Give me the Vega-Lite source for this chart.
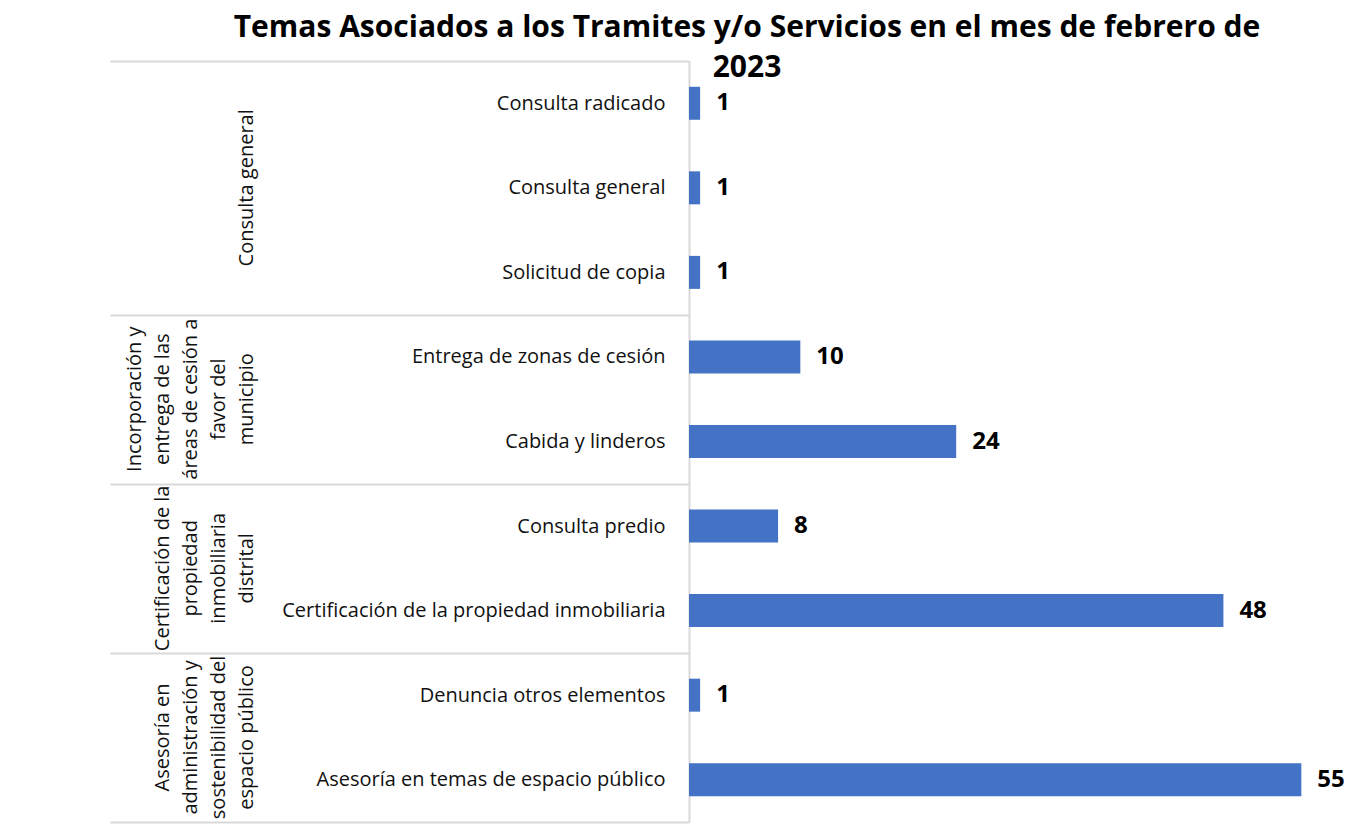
{
  "$schema": "https://vega.github.io/schema/vega-lite/v6.json",
  "autosize": "none",
  "width": 668,
  "height": 761,
  "padding": {"left": 689, "top": 61, "right": 3, "bottom": 11},
  "background": "white",
  "config": {"view": {"stroke": null}, "font": "Open Sans"},
  "title": {
    "text": ["Temas Asociados a los Tramites y/o Servicios en el mes de febrero de", "2023"],
    "fontSize": 30,
    "fontWeight": "bold",
    "font": "Open Sans",
    "color": "#000000",
    "anchor": "middle",
    "frame": "group",
    "dx": -276,
    "offset": -32,
    "lineHeight": 40
  },
  "datasets": {
    "temas": [
      {"tema": "Consulta radicado", "valor": 1},
      {"tema": "Consulta general", "valor": 1},
      {"tema": "Solicitud de copia", "valor": 1},
      {"tema": "Entrega de zonas de cesión", "valor": 10},
      {"tema": "Cabida y linderos", "valor": 24},
      {"tema": "Consulta predio", "valor": 8},
      {"tema": "Certificación de la propiedad inmobiliaria", "valor": 48},
      {"tema": "Denuncia otros elementos", "valor": 1},
      {"tema": "Asesoría en temas de espacio público", "valor": 55}
    ],
    "grupos3": [
      {"grupo": "Consulta general", "ancla": "Consulta general"}
    ],
    "grupos5lineas": [
      {"grupo": "Incorporación y\nentrega de las\náreas de cesión a\nfavor del\nmunicipio", "ancla": "Entrega de zonas de cesión"}
    ],
    "grupos4lineas": [
      {"grupo": "Certificación de la\npropiedad\ninmobiliaria\ndistrital", "ancla": "Consulta predio"},
      {"grupo": "Asesoría en\nadministración y\nsostenibilidad del\nespacio público", "ancla": "Denuncia otros elementos"}
    ]
  },
  "layer": [
    {
      "data": {"name": "temas"},
      "mark": {"type": "bar", "color": "#4472C4", "height": {"band": 0.39}},
      "encoding": {
        "x": {"field": "valor", "type": "quantitative", "scale": {"domain": [0, 60], "nice": false, "zero": true}, "axis": null},
        "y": {
          "field": "tema", "type": "nominal",
          "scale": {"domain": ["Consulta radicado", "Consulta general", "Solicitud de copia", "Entrega de zonas de cesión", "Cabida y linderos", "Consulta predio", "Certificación de la propiedad inmobiliaria", "Denuncia otros elementos", "Asesoría en temas de espacio público"], "paddingInner": 0, "paddingOuter": 0},
          "axis": {
            "title": null,
            "tickBand": "extent",
            "tickSize": 579,
            "tickWidth": 2,
            "tickColor": "#d9d9d9",
            "tickOpacity": {"condition": {"test": "datum.index < 0 || indexof(['Solicitud de copia','Cabida y linderos','Certificación de la propiedad inmobiliaria','Asesoría en temas de espacio público'], datum.value) >= 0", "value": 1}, "value": 0},
            "domainColor": "#d9d9d9",
            "domainWidth": 2,
            "labelPadding": -555,
            "labelFontSize": 20,
            "labelFont": "Open Sans",
            "labelColor": "#111111",
            "labelLimit": 0
          }
        }
      }
    },
    {
      "data": {"name": "temas"},
      "mark": {"type": "text", "align": "left", "baseline": "middle", "dx": 16, "fontSize": 24, "fontWeight": "bold", "color": "#000000", "font": "Open Sans"},
      "encoding": {
        "x": {"field": "valor", "type": "quantitative"},
        "y": {"field": "tema", "type": "nominal", "scale": {"domain": ["Consulta radicado", "Consulta general", "Solicitud de copia", "Entrega de zonas de cesión", "Cabida y linderos", "Consulta predio", "Certificación de la propiedad inmobiliaria", "Denuncia otros elementos", "Asesoría en temas de espacio público"], "paddingInner": 0, "paddingOuter": 0}},
        "text": {"field": "valor", "type": "quantitative"}
      }
    },
    {
      "data": {"name": "grupos3"},
      "mark": {"type": "text", "angle": 270, "align": "center", "baseline": "bottom", "dy": -432, "fontSize": 20, "lineBreak": "\n", "lineHeight": 28, "color": "#111111", "font": "Open Sans"},
      "encoding": {
        "x": {"datum": 0, "type": "quantitative"},
        "y": {"field": "ancla", "type": "nominal", "bandPosition": 0.5, "scale": {"domain": ["Consulta radicado", "Consulta general", "Solicitud de copia", "Entrega de zonas de cesión", "Cabida y linderos", "Consulta predio", "Certificación de la propiedad inmobiliaria", "Denuncia otros elementos", "Asesoría en temas de espacio público"], "paddingInner": 0, "paddingOuter": 0}},
        "text": {"field": "grupo", "type": "nominal"}
      }
    },
    {
      "data": {"name": "grupos5lineas"},
      "mark": {"type": "text", "angle": 270, "align": "center", "baseline": "bottom", "dy": -544, "fontSize": 20, "lineBreak": "\n", "lineHeight": 28, "color": "#111111", "font": "Open Sans"},
      "encoding": {
        "x": {"datum": 0, "type": "quantitative"},
        "y": {"field": "ancla", "type": "nominal", "bandPosition": 1, "scale": {"domain": ["Consulta radicado", "Consulta general", "Solicitud de copia", "Entrega de zonas de cesión", "Cabida y linderos", "Consulta predio", "Certificación de la propiedad inmobiliaria", "Denuncia otros elementos", "Asesoría en temas de espacio público"], "paddingInner": 0, "paddingOuter": 0}},
        "text": {"field": "grupo", "type": "nominal"}
      }
    },
    {
      "data": {"name": "grupos4lineas"},
      "mark": {"type": "text", "angle": 270, "align": "center", "baseline": "bottom", "dy": -516, "fontSize": 20, "lineBreak": "\n", "lineHeight": 28, "color": "#111111", "font": "Open Sans"},
      "encoding": {
        "x": {"datum": 0, "type": "quantitative"},
        "y": {"field": "ancla", "type": "nominal", "bandPosition": 1, "scale": {"domain": ["Consulta radicado", "Consulta general", "Solicitud de copia", "Entrega de zonas de cesión", "Cabida y linderos", "Consulta predio", "Certificación de la propiedad inmobiliaria", "Denuncia otros elementos", "Asesoría en temas de espacio público"], "paddingInner": 0, "paddingOuter": 0}},
        "text": {"field": "grupo", "type": "nominal"}
      }
    }
  ]
}
